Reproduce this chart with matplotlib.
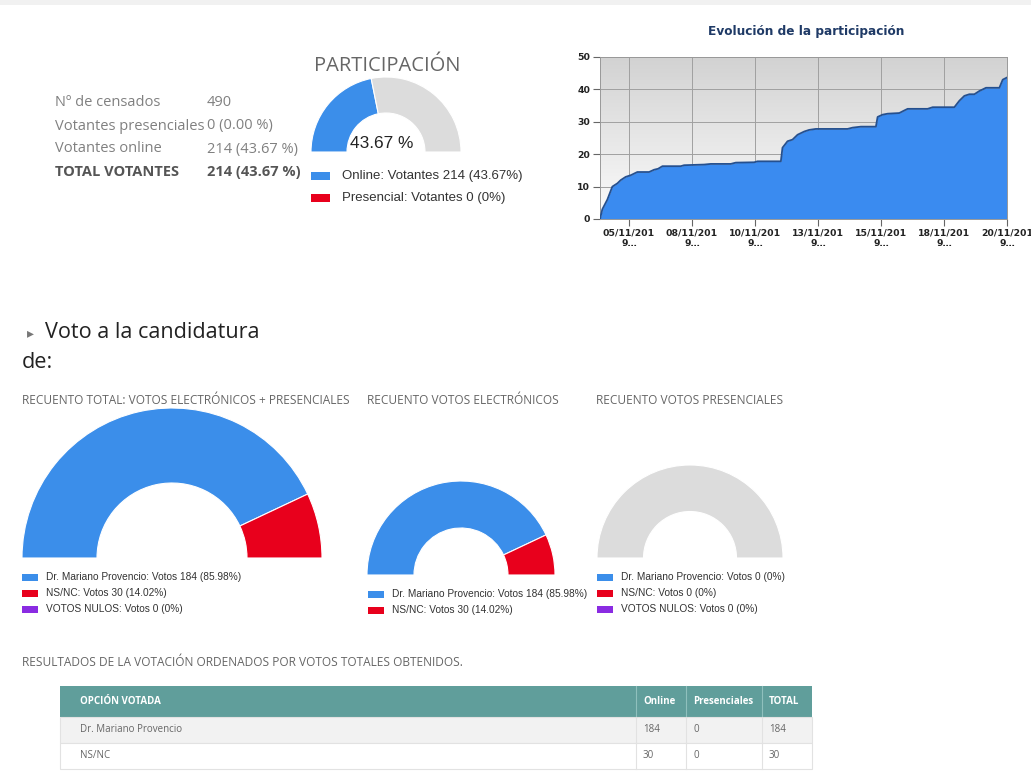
import numpy as np
import matplotlib
matplotlib.use("Agg")
import matplotlib.pyplot as plt
from matplotlib.patches import Rectangle
from matplotlib.colors import LinearSegmentedColormap

# tamaño de la página en píxeles
W, H = 1031, 776

# ================================
# Datos
# ================================
censados = 490
votantes_online = 214
votantes_presenciales = 0

stats_labels = ["Nº de censados", "Votantes presenciales", "Votantes online", "TOTAL VOTANTES"]
stats_values = ["490", "0 (0.00 %)", "214 (43.67 %)", "214 (43.67 %)"]

# evolución de la participación (posición en el eje de fechas, % participación)
evol_t = [-0.461, -0.424, -0.344, -0.265, -0.185, -0.132, -0.053, 0.026, 0.132, 0.318,
          0.397, 0.461, 0.530, 0.821, 0.874, 1.192, 1.298, 1.615, 1.695, 1.986,
          2.039, 2.410, 2.436, 2.516, 2.595, 2.675, 2.781, 2.860, 2.966, 3.469,
          3.549, 3.681, 3.919, 3.946, 4.025, 4.105, 4.290, 4.370, 4.423, 4.740,
          4.820, 5.164, 5.244, 5.323, 5.402, 5.482, 5.561, 5.667, 5.879, 5.932, 6.0]
evol_pct = [0, 3, 6, 10, 11, 12, 13, 13.5, 14.5, 14.5,
            15.2, 15.5, 16.3, 16.3, 16.6, 16.8, 17, 17, 17.4, 17.5,
            17.8, 17.8, 22, 24, 24.5, 26, 27, 27.5, 27.8, 27.8,
            28.2, 28.5, 28.5, 31.5, 32.2, 32.5, 32.7, 33.5, 34, 34,
            34.5, 34.5, 36.5, 38, 38.5, 38.5, 39.5, 40.5, 40.5, 43, 43.67]
evol_fechas = ["05/11/2019", "08/11/2019", "10/11/2019", "13/11/2019",
               "15/11/2019", "18/11/2019", "20/11/2019"]

opciones = ["Dr. Mariano Provencio", "NS/NC", "VOTOS NULOS"]
votos_online = [184, 30, 0]
votos_presenciales = [0, 0, 0]
votos_total = [184, 30, 0]

# colores
AZUL = "#3b8eea"
ROJO = "#e8001c"
MORADO = "#8a2be2"
GRIS = "#dcdcdc"
colores_opciones = [AZUL, ROJO, MORADO]

SANS = ["Open Sans", "DejaVu Sans"]
ARIAL = ["Liberation Sans", "DejaVu Sans"]

fig = plt.figure(figsize=(W / 100, H / 100), dpi=100)
fig.patch.set_facecolor("white")

# capa base en coordenadas de píxel
ax0 = fig.add_axes([0, 0, 1, 1])
ax0.set_xlim(0, W)
ax0.set_ylim(H, 0)
ax0.axis("off")
ax0.add_patch(Rectangle((0, 0), W, 5, color="#f1f1f1", lw=0))


def fig_rect(x, y, w, h):
    return [x / W, (H - y - h) / H, w / W, h / H]


def semidonut(cx, cy, r, valores, colores, ratio=0.5):
    ax = fig.add_axes(fig_rect(cx - r, cy - r, 2 * r, 2 * r))
    total = sum(valores)
    wedges, _ = ax.pie(list(valores) + [total], colors=list(colores) + ["none"],
                       startangle=180, counterclock=False, radius=1,
                       wedgeprops=dict(width=1 - ratio, edgecolor="white", linewidth=0.8))
    wedges[-1].set_edgecolor("none")
    for w_, v in zip(wedges[:-1], valores):
        if v == 0:
            w_.set_edgecolor("none")
    ax.set_xlim(-1, 1)
    ax.set_ylim(-1, 1)
    ax.set_aspect("equal")
    return ax


def leyenda(x0, ys, textos, colores, size=7.3, sw=16, sh=7):
    for y, t, c in zip(ys, textos, colores):
        ax0.add_patch(Rectangle((x0, y - sh / 2), sw, sh, color=c, lw=0))
        ax0.text(x0 + sw + 8, y, t, fontsize=size, family=ARIAL, color="#333333", va="center")


def pct(v, total):
    return f"{v / total * 100:.2f}%" if total and v else "0%"


# ================================
# Bloque de estadísticas
# ================================
for i, (lab, val) in enumerate(zip(stats_labels, stats_values)):
    y = 103 + i * 23
    bold = i == len(stats_labels) - 1
    col = "#555555" if bold else "#808080"
    ax0.text(55, y, lab, fontsize=10.5, family=SANS, color=col, va="center",
             fontweight="bold" if bold else "normal")
    ax0.text(207, y, val, fontsize=10.5, family=SANS, color=col, va="center",
             fontweight="bold" if bold else "normal")

# ================================
# Participación (gauge)
# ================================
ax0.text(387, 66, "PARTICIPACIÓN", fontsize=14.5, family=SANS, color="#666666",
         ha="center", va="center")
semidonut(386, 152, 75, [votantes_online, censados - votantes_online], [AZUL, GRIS], ratio=0.52)
ax0.text(382, 143, f"{votantes_online / censados * 100:.2f} %", fontsize=12.4, family=ARIAL,
         color="#222222", ha="center", va="center")
for y, t, c in zip([176, 198],
                   [f"Online: Votantes {votantes_online} ({votantes_online / censados * 100:.2f}%)",
                    f"Presencial: Votantes {votantes_presenciales} ({pct(votantes_presenciales, censados)})"],
                   [AZUL, ROJO]):
    ax0.add_patch(Rectangle((311, y - 4), 19, 8, color=c, lw=0))
    ax0.text(342, y, t, fontsize=9.5, family=ARIAL, color="#333333", va="center")

# ================================
# Evolución de la participación
# ================================
ax0.text(806, 32, "Evolución de la participación", fontsize=8.7, family="DejaVu Sans",
         fontweight="bold", color="#1f3a66", ha="center", va="center")
axe = fig.add_axes(fig_rect(600, 57, 407, 162))
grad = np.linspace(1, 0, 256).reshape(-1, 1)
cmap = LinearSegmentedColormap.from_list("fondo", ["#fcfcfc", "#d2d2d2"])
axe.imshow(grad, extent=[0, 1, 0, 1], transform=axe.transAxes, cmap=cmap,
           aspect="auto", zorder=0)
axe.fill_between(evol_t, evol_pct, color="#3a8bf0", lw=0, zorder=2)
axe.plot(evol_t, evol_pct, color="#25508f", lw=1.3, zorder=3)
axe.set_xlim(evol_t[0], evol_t[-1])
axe.set_ylim(0, 50)
axe.set_axisbelow(True)
axe.grid(True, color="#a0a0a0", lw=0.7)
axe.set_yticks([0, 10, 20, 30, 40, 50])
axe.set_xticks(range(len(evol_fechas)))
axe.set_xticklabels([d[:9] + "\n" + d[9] + "…" for d in evol_fechas])
for lbl in axe.get_xticklabels() + axe.get_yticklabels():
    lbl.set_fontweight("bold")
    lbl.set_fontfamily("DejaVu Sans")
axe.tick_params(axis="both", labelsize=6.7, labelcolor="#222222", color="#666666",
                direction="out", length=5, width=0.8, pad=2)
for s in axe.spines.values():
    s.set_color("#999999")
    s.set_linewidth(0.7)

# ================================
# Voto a la candidatura
# ================================
ax0.text(27, 333, "▸", fontsize=10, family=["DejaVu Sans"], color="#777777", va="center")
ax0.text(45, 333, "Voto a la candidatura", fontsize=15.6, family=SANS, color="#222222", va="center")
ax0.text(22, 362, "de:", fontsize=15.6, family=SANS, color="#222222", va="center")

titulos = ["RECUENTO TOTAL: VOTOS ELECTRÓNICOS + PRESENCIALES",
           "RECUENTO VOTOS ELECTRÓNICOS", "RECUENTO VOTOS PRESENCIALES"]
for x, t in zip([22, 367, 596], titulos):
    ax0.text(x, 400, t, fontsize=8.6, family=SANS, color="#666666", va="center")

# recuento total
semidonut(172, 558, 150, votos_total, colores_opciones)
tot = sum(votos_total)
leyenda(22, [577, 593, 609],
        [f"{o}: Votos {v} ({pct(v, tot)})" for o, v in zip(opciones, votos_total)],
        colores_opciones)

# recuento electrónico
semidonut(461, 575, 94, votos_online[:2], colores_opciones[:2])
tot_on = sum(votos_online)
leyenda(368, [594, 610],
        [f"{o}: Votos {v} ({pct(v, tot_on)})" for o, v in zip(opciones[:2], votos_online[:2])],
        colores_opciones[:2])

# recuento presencial (sin votos: semicírculo gris)
tot_pr = sum(votos_presenciales)
if tot_pr:
    semidonut(690, 558, 93, votos_presenciales, colores_opciones)
else:
    semidonut(690, 558, 93, [1], [GRIS])
leyenda(597, [577, 593, 609],
        [f"{o}: Votos {v} ({pct(v, tot_pr)})" for o, v in zip(opciones, votos_presenciales)],
        colores_opciones)

# ================================
# Tabla de resultados
# ================================
ax0.text(22, 662, "RESULTADOS DE LA VOTACIÓN ORDENADOS POR VOTOS TOTALES OBTENIDOS.",
         fontsize=8.6, family=SANS, color="#666666", va="center")

col_x = [60, 636, 686, 762, 812]
cabecera = ["OPCIÓN VOTADA", "Online", "Presenciales", "TOTAL"]
filas = [(o, a, b, c) for o, a, b, c in zip(opciones, votos_online, votos_presenciales, votos_total) if c > 0]
y_cab, h_cab, h_fila = 686, 31, 26

ax0.add_patch(Rectangle((col_x[0], y_cab), col_x[-1] - col_x[0], h_cab, color="#609e9b", lw=0))
for i, t in enumerate(cabecera):
    x = col_x[i] + (20 if i == 0 else 7)
    ax0.text(x, y_cab + h_cab / 2, t, fontsize=7, family=SANS, fontweight="bold",
             color="white", va="center")
for x in col_x[1:-1]:
    ax0.plot([x, x], [y_cab, y_cab + h_cab], color="#8fc0bd", lw=0.8)

for j, fila in enumerate(filas):
    y = y_cab + h_cab + j * h_fila
    ax0.add_patch(Rectangle((col_x[0], y), col_x[-1] - col_x[0], h_fila,
                            facecolor="#f2f2f2" if j % 2 == 0 else "white",
                            edgecolor="#e2e2e2", lw=0.8))
    for i, v in enumerate(fila):
        x = col_x[i] + (20 if i == 0 else 7)
        ax0.text(x, y + h_fila / 2, str(v), fontsize=7, family=SANS, color="#666666", va="center")
    for x in col_x[1:-1]:
        ax0.plot([x, x], [y, y + h_fila], color="#e2e2e2", lw=0.8)

fig.savefig("out.png", dpi=100, facecolor="white")
